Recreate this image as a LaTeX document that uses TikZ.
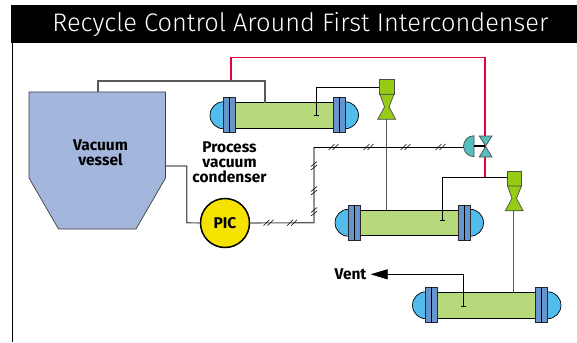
\documentclass[tikz,border=0pt]{standalone}
\usepackage{fontspec}
\setmainfont{Fira Sans}
\newfontfamily\bannerfont[UprightFont=* Light]{Fira Sans}
\usetikzlibrary{arrows.meta}
\definecolor{vesselblue}{HTML}{A3B6DC}
\definecolor{shellgreen}{HTML}{B7D87B}
\definecolor{flangeblue}{HTML}{6595CC}
\definecolor{capblue}{HTML}{52BCEC}
\definecolor{ejectgreen}{HTML}{96CC14}
\definecolor{valveteal}{HTML}{55BDBE}
\definecolor{picyellow}{HTML}{F6E200}
\definecolor{recyclered}{HTML}{E4003A}

\begin{document}
\begin{tikzpicture}[
  x=1pt,y=-1pt,
  wire/.style={draw=black,line width=.8pt},
  gaswire/.style={draw=black!65,line width=1.1pt},
  recycle/.style={draw=recyclered,line width=1.5pt},
  tick/.style={draw=black,line width=.6pt},
  tee/.style={draw=black,line width=.9pt},
  caplabel/.style={font=\fontsize{15.5}{15}\selectfont\bfseries,align=center,inner sep=0pt},
  endcap/.style={circle,draw=black,fill=capblue,line width=.7pt,inner sep=0pt,minimum size=27pt},
  shell/.style={rectangle,draw=black,fill=shellgreen,line width=.7pt,inner sep=0pt,minimum width=98pt,minimum height=25.4pt},
  flange/.style={rectangle,draw=black!85,fill=flangeblue,line width=.7pt,inner sep=0pt,minimum width=12.4pt,minimum height=35pt},
  ejectbox/.style={rectangle,draw=black!70,fill=ejectgreen,line width=.7pt,inner sep=0pt,minimum width=14.7pt,minimum height=15pt},
  throat/.style={draw=black!70,fill=ejectgreen,line width=.7pt},
  valveleaf/.style={draw=black!70,fill=valveteal,line width=.7pt}
]
\useasboundingbox (0,0) rectangle (577,342);

% Banner and frame line.
\node[fill=black,minimum width=566pt,minimum height=38pt,inner sep=0pt] (banner) at (294,24) {};
\node[text=white,inner sep=0pt,font=\fontsize{25.4}{26}\bannerfont] (bannertext) at (300.5,24.5) {Recycle Control Around First Intercondenser};
\coordinate (framefoot) at (12.2,342);
\draw[wire] (banner.south west -| framefoot) -- (framefoot);

% Vacuum vessel.
\draw[draw=black!75,fill=vesselblue,line width=.7pt] (29,92) -- (165.5,92) -- (165.5,178) -- (136,229) -- (58.5,229) -- (29,178) -- cycle;
\node[caplabel] (vessel) at (100.5,153) {Vacuum\\vessel};
\node[caplabel] (proclabel) at (229.5,162) {Process\\vacuum\\condenser};
\coordinate (vesseltop) at (98,92);
\coordinate (vesselside) at (165.5,166);

% Process vacuum condenser.
\node[endcap] (capAl) at (223.5,115.25) {};
\node[endcap] (capAr) at (345,115.25) {};
\node[shell] (shellA) at (284.3,115.25) {};
\node[flange] (flangeAl) at (229.6,115) {};
\node[flange] (flangeAr) at (339.5,115) {};
\draw[wire] (flangeAl.north) -- (flangeAl.south) (flangeAr.north) -- (flangeAr.south);

% Second condenser.
\node[endcap] (capBl) at (348.5,222.75) {};
\node[endcap] (capBr) at (470,222.75) {};
\node[shell] (shellB) at (409.3,222.75) {};
\node[flange] (flangeBl) at (354.6,222.5) {};
\node[flange] (flangeBr) at (464.5,222.5) {};
\draw[wire] (flangeBl.north) -- (flangeBl.south) (flangeBr.north) -- (flangeBr.south);

% Third condenser.
\node[endcap] (capCl) at (426,305.25) {};
\node[endcap] (capCr) at (547.5,305.25) {};
\node[shell] (shellC) at (486.8,305.25) {};
\node[flange] (flangeCl) at (431.3,304.8) {};
\node[flange] (flangeCr) at (541.3,304.8) {};
\draw[wire] (flangeCl.north) -- (flangeCl.south) (flangeCr.north) -- (flangeCr.south);

% Ejectors.
\node[ejectbox] (ejectA) at (386.7,86.8) {};
\draw[throat] (380,94.3) -- (394,94.3) -- (389,107) -- (395.7,119.3) -- (377.7,119.3) -- (384.5,107) -- cycle;
\coordinate (throatA) at (386.7,119.3);
\node[ejectbox] (ejectB) at (514.2,178.5) {};
\draw[throat] (507.5,186) -- (521.5,186) -- (516.5,198.5) -- (523.2,210.8) -- (505.2,210.8) -- (512,198.5) -- cycle;
\coordinate (throatB) at (513.7,210.8);

% Recycle line, drawn under the valve.
\coordinate (recyclefoot) at (231,81);
\coordinate (teeline) at (485,177.3);
\draw[recycle] (recyclefoot) -- (231,57.5) -- (485,57.5) -- (teeline);

% Vessel to the condensers and ejectors.
\draw[gaswire] (vesseltop) -- (98,81) -- (265,81) -- (265,102.5);
\draw[gaswire] (throatA) -- (386.7,210);
\draw[gaswire] (throatB) -- (513.7,292.5);
\coordinate (teeA) at (316,115);
\coordinate (teeB) at (442.3,220.7);
\coordinate (teeC) at (463.7,306.7);
\draw[wire] (teeA) |- (ejectA.west |- 0,87.7);
\draw[wire] (teeB) |- (ejectB.west |- 0,177.3);
\draw[tee] (313.5,115) -- (318.5,115) (439.8,220.7) -- (444.8,220.7) (461.2,306.7) -- (466.2,306.7);

% Pressure controller and its signal line.
\node[circle,draw=black,fill=picyellow,line width=1.5pt,inner sep=0pt,minimum size=49pt,
  font=\fontsize{15.5}{16}\selectfont\bfseries] (pic) at (225,223) {PIC};
\draw[gaswire] (vesselside) -- (186.7,166) -- (186.7,222.7) -- (pic.west);
\coordinate (actuator) at (463.5,147);
\draw[gaswire] (pic.east) -- (314,222.7) -- (314,147);
\draw[wire] (314,147) -- (actuator);
\foreach \hx/\hy in {268/222.7,291.5/222.7,333/147,368/147,405/147,440/147}
  \draw[tick] (\hx-4.5,\hy+3) -- ++(6,-6) (\hx-.5,\hy+3) -- ++(6,-6);
\foreach \hx/\hy in {314/165,314/190,314/211}
  \draw[tick] (\hx-3,\hy+1.5) -- ++(6,-5) (\hx-3,\hy+5) -- ++(6,-5);

% Control valve.
\draw[valveleaf] (474,135.7) arc[start angle=-90,end angle=-270,radius=10.5] -- cycle;
\draw[line width=1.8pt] (474,146.2) -- (485.5,146.2);
\draw[valveleaf] (479.3,136) -- (492,136) -- (485.6,146) -- cycle;
\draw[valveleaf] (479.3,157) -- (492,157) -- (485.6,146.4) -- cycle;

% Vent.
\node[caplabel,inner sep=4pt] (vent) at (350.5,274.3) {Vent};
\draw[wire,-{Triangle[length=17pt,width=10pt]}] (teeC) |- (vent);
\end{tikzpicture}
\end{document}
